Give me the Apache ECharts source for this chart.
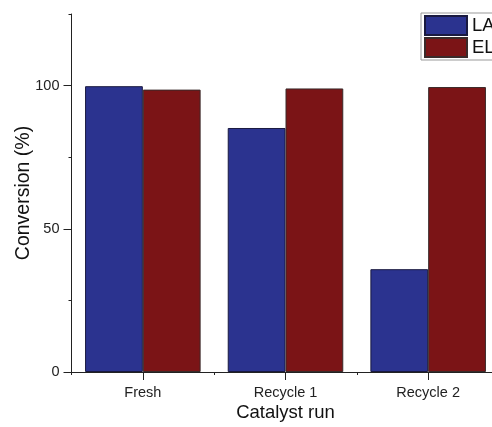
<!DOCTYPE html>
<html>
<head>
<meta charset="utf-8">
<script src="https://cdn.jsdelivr.net/npm/echarts@6/dist/echarts.min.js"></script>
<style>
  html, body { margin: 0; padding: 0; background: #fff; }
  #chart { width: 492px; height: 427px; }
</style>
</head>
<body>
<div id="chart"></div>
<script>
// Catalyst runs and conversion (%) for each product
const runs = ['Fresh', 'Recycle 1', 'Recycle 2'];
const laConversion = [99.8, 85.2, 35.9];
const elConversion = [98.6, 99.0, 99.5];
const seriesNames = ['LA', 'EL'];
const majorYTicks = [0, 50, 100];
const minorYTicks = [25, 75, 125];

const font = 'Liberation Sans, Arial, sans-serif';
const axisColor = '#222';

const chart = echarts.init(document.getElementById('chart'), null, { renderer: 'canvas' });

chart.setOption({
  animation: false,
  backgroundColor: '#fff',
  textStyle: { fontFamily: font },
  grid: { left: 71.5, top: 14, width: 428, bottom: 55, containLabel: false, outerBoundsMode: 'none' },
  legend: {
    orient: 'vertical',
    left: 421,
    top: 13,
    icon: 'rect',
    itemWidth: 42,
    itemHeight: 19,
    itemGap: 1,
    padding: [2, 40, 2, 3],
    borderColor: '#999',
    borderWidth: 1,
    textStyle: { fontSize: 18.5, color: '#111', fontFamily: font },
    data: seriesNames
  },
  xAxis: [
    {
      type: 'category',
      data: runs,
      boundaryGap: true,
      axisLine: { show: true, lineStyle: { color: axisColor, width: 1 } },
      axisTick: { show: true, alignWithLabel: true, length: 8, lineStyle: { color: axisColor } },
      axisLabel: { fontSize: 14.5, color: '#222', margin: 13, fontFamily: font },
      name: 'Catalyst run',
      nameLocation: 'middle',
      nameGap: 31,
      nameMoveOverlap: false,
      nameTextStyle: { fontSize: 18.5, color: '#111', fontFamily: font },
      splitLine: { show: false }
    },
    {
      // short ticks at the category boundaries
      type: 'category',
      data: runs,
      position: 'bottom',
      boundaryGap: true,
      axisLine: { show: false },
      axisTick: { show: true, alignWithLabel: false, length: 3, lineStyle: { color: axisColor } },
      axisLabel: { show: false },
      splitLine: { show: false }
    }
  ],
  yAxis: [
    {
      type: 'value',
      min: 0,
      max: 125,
      interval: 25,
      axisLine: { show: true, lineStyle: { color: axisColor, width: 1 } },
      axisTick: { show: true, length: 8, customValues: majorYTicks, lineStyle: { color: axisColor } },
      axisLabel: { fontSize: 14.5, color: '#222', margin: 12, customValues: majorYTicks, fontFamily: font },
      splitLine: { show: false },
      name: 'Conversion (%)',
      nameLocation: 'middle',
      nameGap: 38,
      nameMoveOverlap: false,
      nameTextStyle: { fontSize: 19.5, color: '#111', fontFamily: font }
    },
    {
      // minor ticks between the labelled values
      type: 'value',
      position: 'left',
      min: 0,
      max: 125,
      interval: 25,
      axisLine: { show: false },
      axisTick: { show: true, length: 3, customValues: minorYTicks, lineStyle: { color: axisColor } },
      axisLabel: { show: false },
      splitLine: { show: false }
    }
  ],
  series: [
    {
      name: seriesNames[0],
      type: 'bar',
      xAxisIndex: 0,
      yAxisIndex: 0,
      data: laConversion,
      barGap: '0%',
      barCategoryGap: '19%',
      itemStyle: { color: '#2b338f', borderColor: '#1a1a40', borderWidth: 1 }
    },
    {
      name: seriesNames[1],
      type: 'bar',
      xAxisIndex: 0,
      yAxisIndex: 0,
      data: elConversion,
      barGap: '0%',
      barCategoryGap: '19%',
      itemStyle: { color: '#7b1416', borderColor: '#3a2a2a', borderWidth: 1 }
    }
  ]
});
</script>
</body>
</html>
